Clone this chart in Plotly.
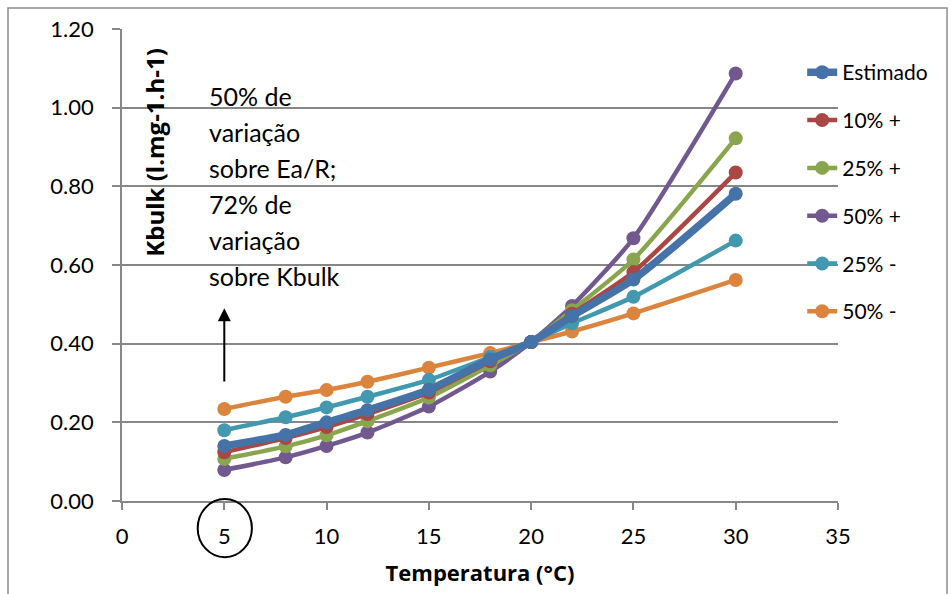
import plotly.graph_objects as go

# Temperature (°C) and Kbulk (l.mg-1.h-1) for each Ea/R scenario
temperatura = [5, 8, 10, 12, 15, 18, 20, 22, 25, 30]

estimado = [0.140, 0.168, 0.200, 0.231, 0.283, 0.360, 0.404, 0.470, 0.563, 0.781]
mais_10 = [0.124, 0.160, 0.188, 0.221, 0.276, 0.355, 0.404, 0.476, 0.582, 0.835]
mais_25 = [0.107, 0.139, 0.167, 0.203, 0.263, 0.345, 0.404, 0.485, 0.614, 0.922]
mais_50 = [0.079, 0.111, 0.140, 0.174, 0.240, 0.329, 0.404, 0.496, 0.668, 1.087]
menos_25 = [0.180, 0.213, 0.238, 0.265, 0.308, 0.366, 0.404, 0.452, 0.519, 0.662]
menos_50 = [0.234, 0.265, 0.282, 0.303, 0.339, 0.376, 0.404, 0.431, 0.477, 0.562]

series = [
    ("Estimado", estimado, "#4572A7", 7.5),
    ("10% +", mais_10, "#AA4643", 4.5),
    ("25% +", mais_25, "#89A54E", 4.5),
    ("50% +", mais_50, "#71588F", 4.5),
    ("25% -", menos_25, "#4198AF", 4.5),
    ("50% -", menos_50, "#DB843D", 4.5),
]

nota = ["50% de", "variação", "sobre Ea/R;", "72% de", "variação", "sobre Kbulk"]

FONT = "Lato, Carlito, 'Liberation Sans', sans-serif"
TITLE_FONT = "'Open Sans', 'Liberation Sans', sans-serif"
GRID = "#878787"

fig = go.Figure()
# draw in reverse so the estimated curve sits on top
for i, (nome, vals, cor, lw) in reversed(list(enumerate(series))):
    fig.add_trace(go.Scatter(
        x=temperatura, y=vals, name=nome, mode="lines+markers",
        line=dict(color=cor, width=lw, shape="spline", smoothing=0.6),
        marker=dict(color=cor, size=14),
        legendgroup=str(i), legendrank=i,
    ))

fig.update_layout(
    width=951, height=594,
    margin=dict(l=122, r=113, t=29, b=93),
    paper_bgcolor="white", plot_bgcolor="white",
    font=dict(family=FONT, size=22, color="black"),
    showlegend=True,
    legend=dict(
        x=0.950, xanchor="left", y=0.951, yanchor="top",
        font=dict(size=21), tracegroupgap=17.5, traceorder="grouped",
        itemwidth=30, bgcolor="rgba(0,0,0,0)",
    ),
    xaxis=dict(
        range=[0, 35], dtick=5, tick0=0, showgrid=False,
        showline=True, linecolor=GRID, linewidth=1.5,
        ticks="outside", ticklen=7, tickcolor=GRID, tickwidth=1.5,
        ticklabelstandoff=8, zeroline=False,
        title=dict(text="<b>Temperatura (°C)</b>",
                   font=dict(family=TITLE_FONT, size=22), standoff=17),
    ),
    yaxis=dict(
        range=[0, 1.2], dtick=0.2, tick0=0, tickformat=".2f",
        showgrid=True, gridcolor=GRID, gridwidth=1.5,
        showline=True, linecolor=GRID, linewidth=1.5,
        ticks="outside", ticklen=8, tickcolor=GRID, tickwidth=1.5,
        ticklabelstandoff=14, zeroline=False,
    ),
)

# y-axis title placed inside the plotting area
fig.add_annotation(
    text="<b>Kbulk (l.mg-1.h-1)</b>", textangle=-90,
    xref="x", yref="y", x=1.6, y=0.885, showarrow=False,
    font=dict(family=TITLE_FONT, size=24),
)

# explanatory note, one annotation per line
for k, linha in enumerate(nota):
    fig.add_annotation(
        text=linha, xref="x", yref="y", x=4.15, y=1.03,
        xanchor="left", yanchor="middle", showarrow=False,
        yshift=-36 * k, font=dict(size=25),
    )

# upward arrow at 5 °C
fig.add_annotation(
    x=5, y=0.49, ax=5, ay=0.30, xref="x", yref="y", axref="x", ayref="y",
    text="", showarrow=True, arrowhead=2, arrowsize=1.3, arrowwidth=2,
    arrowcolor="black",
)

# circle highlighting the 5 °C tick
fig.add_shape(
    type="circle", xref="x", yref="paper",
    x0=3.7, x1=6.35, y0=-0.119, y1=0.004,
    line=dict(color="black", width=2),
)

# outer chart frame
fig.add_shape(
    type="rect", xref="paper", yref="paper",
    x0=(8 - 122) / 716, x1=(947 - 122) / 716,
    y0=-0.25, y1=1 + 21 / 472,
    line=dict(color="#8C8C8C", width=1.5), layer="below",
)

fig.write_html("out.html")
